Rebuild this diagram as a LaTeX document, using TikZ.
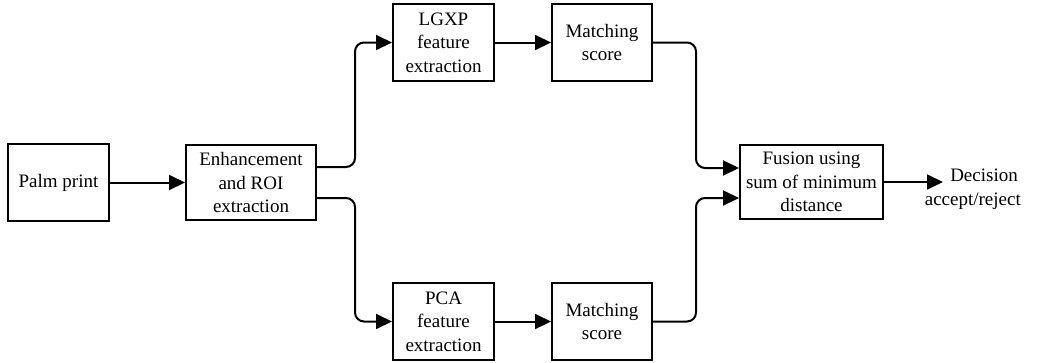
\documentclass[tikz,border=0pt]{standalone}
\usepackage{fontspec}
\setmainfont{Liberation Serif}
\usetikzlibrary{arrows.meta,calc}
\begin{document}
\begin{tikzpicture}[x=1pt,y=-1pt,
  box/.style={draw=black, line width=2pt, align=center, inner sep=2pt,
    font=\fontsize{19}{23.5}\selectfont},
  lbl/.style={align=right, inner sep=0pt, font=\fontsize{19}{24}\selectfont},
  arr/.style={line width=2pt, -{Triangle[length=16pt,width=15pt]}},
  con/.style={arr, rounded corners=9pt}]
\useasboundingbox (0,0) rectangle (1046,362);
\node[box, minimum width=101pt, minimum height=77pt] (palm) at (58.5,182.5) {Palm print};
\node[box, minimum width=130pt, minimum height=75pt] (enh) at (251,182.5) {Enhancement\\and ROI\\extraction};
\node[box, minimum width=101pt, minimum height=77pt] (lgxp) at (443.5,42.5) {LGXP\\feature\\extraction};
\node[box, minimum width=100pt, minimum height=77pt] (ms1) at (602,42.5) {Matching\\score};
\node[box, minimum width=101pt, minimum height=77pt] (pca) at (443.5,321.5) {PCA\\feature\\extraction};
\node[box, minimum width=100pt, minimum height=77pt] (ms2) at (602,321.5) {Matching\\score};
\node[box, minimum width=143pt, minimum height=74pt] (fus) at (811.5,182) {Fusion using\\sum of minimum\\distance};
\node[lbl, anchor=east] (dec) at (1021,189) {Decision\hspace*{3pt}\\accept/reject};
\coordinate (eo1) at ($(enh.east)+(0,-15.5)$);
\coordinate (eo2) at ($(enh.east)+(0,15.5)$);
\coordinate (fi1) at ($(fus.west)+(0,-14)$);
\coordinate (fi2) at ($(fus.west)+(0,16)$);
\coordinate (decin) at (943,182);
\draw[arr] (palm.east) -- (enh.west);
\draw[con] (eo1) -- (355,167) -- (355,42.5) -- (lgxp.west);
\draw[con] (eo2) -- (355,198) -- (355,321.5) -- (pca.west);
\draw[arr] (lgxp.east) -- (ms1.west);
\draw[arr] (pca.east) -- (ms2.west);
\draw[con] (ms1.east) -- (696,42.5) -- (696,168) -- (fi1);
\draw[con] (ms2.east) -- (696,321.5) -- (696,198) -- (fi2);
\draw[arr] (fus.east) -- (decin);
\end{tikzpicture}
\end{document}
